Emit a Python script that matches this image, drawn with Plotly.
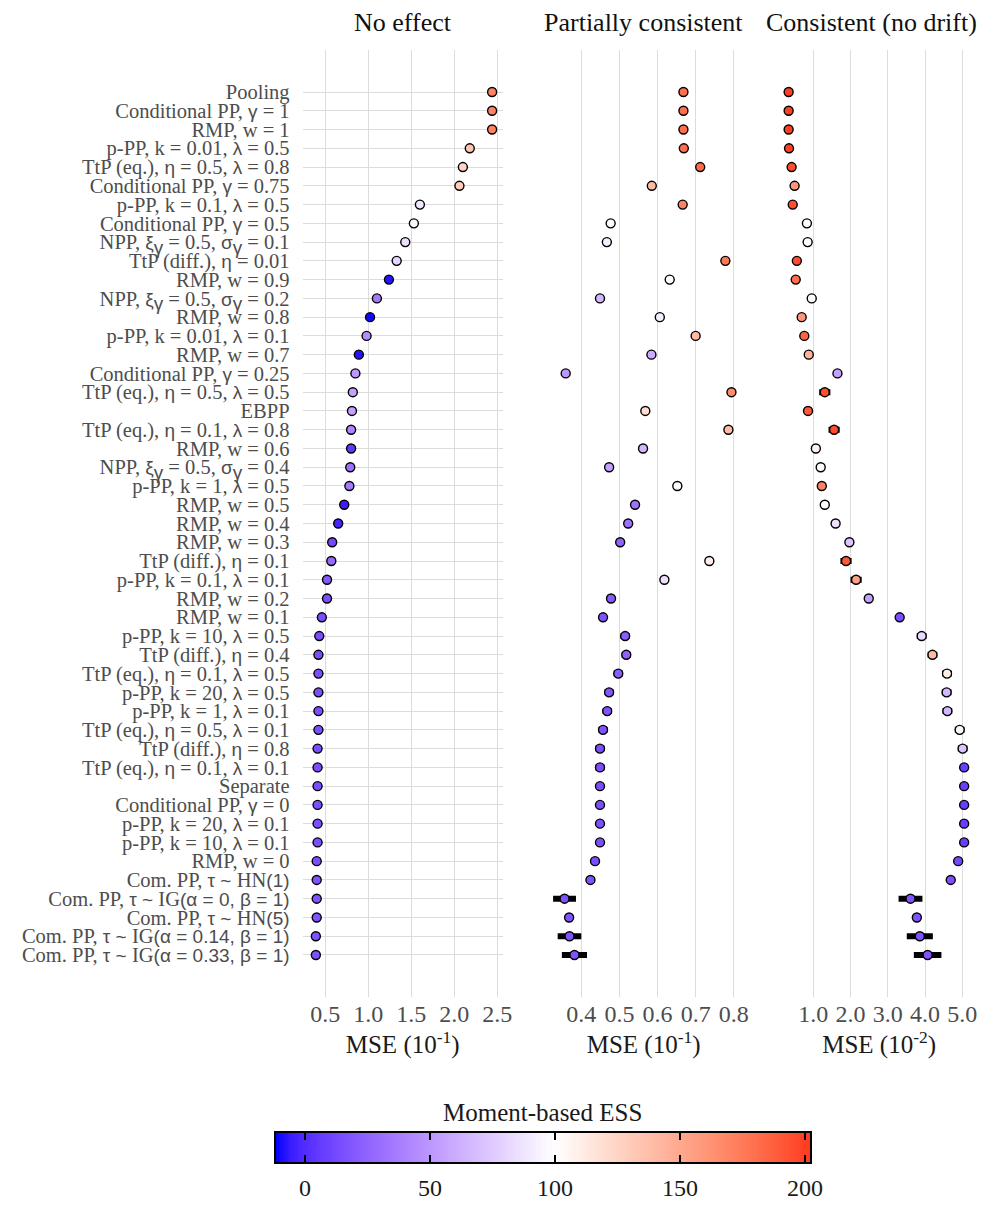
import re

import numpy as np
import plotly.graph_objects as go

SERIF = "Liberation Serif"
SANS = "Liberation Sans"

methods = [
    "Pooling",
    "Conditional PP, γ = 1",
    "RMP, w = 1",
    "p-PP, k = 0.01, λ = 0.5",
    "TtP (eq.), η = 0.5, λ = 0.8",
    "Conditional PP, γ = 0.75",
    "p-PP, k = 0.1, λ = 0.5",
    "Conditional PP, γ = 0.5",
    "NPP, ξ<sub>γ</sub> = 0.5, σ<sub>γ</sub> = 0.1",
    "TtP (diff.), η = 0.01",
    "RMP, w = 0.9",
    "NPP, ξ<sub>γ</sub> = 0.5, σ<sub>γ</sub> = 0.2",
    "RMP, w = 0.8",
    "p-PP, k = 0.01, λ = 0.1",
    "RMP, w = 0.7",
    "Conditional PP, γ = 0.25",
    "TtP (eq.), η = 0.5, λ = 0.5",
    "EBPP",
    "TtP (eq.), η = 0.1, λ = 0.8",
    "RMP, w = 0.6",
    "NPP, ξ<sub>γ</sub> = 0.5, σ<sub>γ</sub> = 0.4",
    "p-PP, k = 1, λ = 0.5",
    "RMP, w = 0.5",
    "RMP, w = 0.4",
    "RMP, w = 0.3",
    "TtP (diff.), η = 0.1",
    "p-PP, k = 0.1, λ = 0.1",
    "RMP, w = 0.2",
    "RMP, w = 0.1",
    "p-PP, k = 10, λ = 0.5",
    "TtP (diff.), η = 0.4",
    "TtP (eq.), η = 0.1, λ = 0.5",
    "p-PP, k = 20, λ = 0.5",
    "p-PP, k = 1, λ = 0.1",
    "TtP (eq.), η = 0.5, λ = 0.1",
    "TtP (diff.), η = 0.8",
    "TtP (eq.), η = 0.1, λ = 0.1",
    "Separate",
    "Conditional PP, γ = 0",
    "p-PP, k = 20, λ = 0.1",
    "p-PP, k = 10, λ = 0.1",
    "RMP, w = 0",
    "Com. PP, τ ~ HN(1)",
    "Com. PP, τ ~ IG(α = 0, β = 1)",
    "Com. PP, τ ~ HN(5)",
    "Com. PP, τ ~ IG(α = 0.14, β = 1)",
    "Com. PP, τ ~ IG(α = 0.33, β = 1)",
]

panel_titles = ["No effect", "Partially consistent", "Consistent (no drift)"]
axis_titles = ["MSE (10<sup>-1</sup>)", "MSE (10<sup>-1</sup>)", "MSE (10<sup>-2</sup>)"]

# MSE, no effect scenario (x 10^-1)
mse_none = [2.44, 2.44, 2.44, 2.18, 2.10, 2.06, 1.60, 1.53, 1.43, 1.33,
            1.24, 1.10, 1.02, 0.98, 0.89, 0.85, 0.82, 0.81, 0.80, 0.80,
            0.79, 0.78, 0.72, 0.65, 0.58, 0.57, 0.52, 0.52, 0.46, 0.43,
            0.42, 0.42, 0.42, 0.42, 0.42, 0.41, 0.41, 0.41, 0.41, 0.41,
            0.41, 0.40, 0.40, 0.40, 0.40, 0.39, 0.39]
ess_none = [170, 170, 170, 135, 125, 130, 88, 95, 85, 80,
            -8, 35, -10, 45, -8, 50, 55, 55, 42, 5,
            32, 36, -5, -3, 12, 28, 20, 15, 15, 15,
            15, 15, 15, 15, 15, 15, 15, 15, 15, 15,
            15, 15, 17, 17, 17, 17, 17]
err_none = [0.0] * 47

# MSE, partially consistent scenario (x 10^-1)
mse_partial = [0.668, 0.668, 0.668, 0.669, 0.712, 0.585, 0.666, 0.477, 0.467, 0.778,
               0.632, 0.449, 0.606, 0.700, 0.584, 0.359, 0.794, 0.568, 0.786, 0.562,
               0.473, 0.652, 0.541, 0.523, 0.502, 0.736, 0.618, 0.478, 0.457, 0.515,
               0.518, 0.497, 0.473, 0.468, 0.457, 0.449, 0.449, 0.449, 0.449, 0.449,
               0.449, 0.436, 0.424, 0.356, 0.368, 0.369, 0.382]
ess_partial = [180, 180, 180, 180, 182, 140, 170, 98, 92, 175,
               100, 65, 92, 140, 60, 50, 165, 120, 140, 65,
               55, 100, 32, 32, 25, 110, 85, 20, 17, 22,
               25, 22, 18, 17, 17, 15, 15, 15, 15, 15,
               15, 15, 17, 17, 17, 17, 17]
err_partial = [0.0] * 29 + [0.012] * 8 + [0.0] * 6 + [0.030, 0.0, 0.031, 0.033]

# MSE, consistent scenario (x 10^-2)
mse_consistent = [0.34, 0.34, 0.34, 0.35, 0.42, 0.50, 0.45, 0.83, 0.85, 0.56,
                  0.53, 0.96, 0.69, 0.76, 0.88, 1.65, 1.31, 0.86, 1.56, 1.07,
                  1.20, 1.23, 1.31, 1.60, 1.97, 1.88, 2.15, 2.49, 3.32, 3.91,
                  4.20, 4.59, 4.58, 4.60, 4.93, 5.01, 5.05, 5.05, 5.05, 5.05,
                  5.05, 4.89, 4.69, 3.61, 3.78, 3.86, 4.07]
ess_consistent = [200, 200, 200, 200, 195, 160, 195, 100, 100, 195,
                  180, 100, 160, 185, 145, 55, 195, 190, 195, 108,
                  100, 170, 100, 85, 72, 190, 155, 55, 15, 82,
                  140, 110, 65, 65, 95, 72, 8, 8, 8, 8,
                  8, 12, 15, 17, 17, 17, 17]
err_consistent = ([0.0] * 16 + [0.15, 0.0, 0.15] + [0.0] * 6 + [0.15, 0.15, 0.0, 0.0]
                  + [0.13] * 7 + [0.1] * 5 + [0.0, 0.0, 0.32, 0.0, 0.35, 0.37])

x_ranges = [(0.237, 2.563), (0.302, 0.825), (0.088, 5.45)]
x_ticks = [[0.5, 1.0, 1.5, 2.0, 2.5], [0.4, 0.5, 0.6, 0.7, 0.8], [1, 2, 3, 4, 5]]
x_ticktext = [["0.5", "1.0", "1.5", "2.0", "2.5"], ["0.4", "0.5", "0.6", "0.7", "0.8"],
              ["1.0", "2.0", "3.0", "4.0", "5.0"]]
domains = [(0.3036, 0.5042), (0.5456, 0.7455), (0.7816, 0.982)]
title_x = [0.4039, 0.6459, 0.8746]

ess_ticks = [0, 50, 100, 150, 200]
ess_min, ess_max, ess_mid = -11.6, 202, 100

SANS_SPAN = f"<span style=\"font-family:'{SANS}';font-size:19px\">"


def sans_label(text):
    if text.startswith("Com. PP"):
        head, rest = text.split("τ ~ ", 1)
        name, par = rest.split("(", 1)
        return f"{head}{SANS_SPAN}τ ~ </span>{name}{SANS_SPAN}({par}</span>"
    return re.sub(r"([γλησξτ])", lambda m: f"{SANS_SPAN}{m.group(1)}</span>", text)


# diverging blue-white-red in Lab space, like scale_fill_gradient2
def _to_lab(rgb):
    c = np.array(rgb, float) / 255
    c = np.where(c <= 0.04045, c / 12.92, ((c + 0.055) / 1.055) ** 2.4)
    m = np.array([[0.4124, 0.3576, 0.1805], [0.2126, 0.7152, 0.0722], [0.0193, 0.1192, 0.9505]])
    xyz = m @ c / np.array([0.95047, 1.0, 1.08883])
    f = np.where(xyz > 0.008856, np.cbrt(xyz), 7.787 * xyz + 16 / 116)
    return np.array([116 * f[1] - 16, 500 * (f[0] - f[1]), 200 * (f[1] - f[2])])


def _from_lab(lab):
    fy = (lab[0] + 16) / 116
    f = np.array([fy + lab[1] / 500, fy, fy - lab[2] / 200])
    xyz = np.where(f ** 3 > 0.008856, f ** 3, (f - 16 / 116) / 7.787) * np.array([0.95047, 1.0, 1.08883])
    m = np.array([[3.2406, -1.5372, -0.4986], [-0.9689, 1.8758, 0.0415], [0.0557, -0.2040, 1.0570]])
    c = np.clip(m @ xyz, 0, 1)
    c = np.where(c <= 0.0031308, 12.92 * c, 1.055 * c ** (1 / 2.4) - 0.055)
    r, g, b = (np.clip(c, 0, 1) * 255).round().astype(int)
    return f"rgb({r},{g},{b})"


low, mid, high = _to_lab((0, 0, 255)), _to_lab((255, 255, 255)), _to_lab((255, 0, 0))
half = max(abs(ess_min - ess_mid), abs(ess_max - ess_mid))
colorscale = []
for s in np.linspace(0, 1, 41):
    v = ess_min + s * (ess_max - ess_min)
    p = 0.5 + (v - ess_mid) / (2 * half)
    if p < 0.5:
        lab = low + (mid - low) * (p / 0.5)
    else:
        lab = mid + (high - mid) * ((p - 0.5) / 0.5)
    colorscale.append([float(s), _from_lab(lab)])

fig = go.Figure()
panels = [(mse_none, ess_none, err_none), (mse_partial, ess_partial, err_partial),
          (mse_consistent, ess_consistent, err_consistent)]
for i, (mse, ess, err) in enumerate(panels):
    suffix = "" if i == 0 else str(i + 1)
    fig.add_trace(go.Scatter(
        x=mse, y=methods, mode="markers",
        xaxis=f"x{suffix}", yaxis=f"y{suffix}",
        error_x=dict(type="data", array=err, color="black", thickness=6, width=0),
        marker=dict(size=9, color=ess, coloraxis="coloraxis", line=dict(color="black", width=1.4)),
        showlegend=False,
        hovertemplate="%{y}<br>MSE: %{x}<br>ESS: %{marker.color}<extra></extra>",
    ))

# legend bar drawn as a one-row heatmap so the ticks can sit on both edges
gradient = np.linspace(ess_min, ess_max, 300)
fig.add_trace(go.Heatmap(
    x=gradient, y=[0.5], z=[gradient], coloraxis="coloraxis",
    xaxis="x4", yaxis="y4", hoverinfo="skip",
))

grid = "#dcdcdc"
for i in range(3):
    suffix = "" if i == 0 else str(i + 1)
    fig.layout[f"xaxis{suffix}"] = dict(
        domain=domains[i], anchor=f"y{suffix}", range=x_ranges[i], automargin=False,
        tickvals=x_ticks[i], ticktext=x_ticktext[i],
        showgrid=True, gridcolor=grid, gridwidth=1, zeroline=False, showline=False,
        ticks="",
        tickfont=dict(family=SERIF, size=24, color="#4d4d4d"),
        title=dict(text=axis_titles[i], font=dict(family=SERIF, size=25, color="#1a1a1a"), standoff=9),
    )
    fig.layout[f"yaxis{suffix}"] = dict(
        domain=(0.19009, 0.95938), anchor=f"x{suffix}", type="category", automargin=False,
        categoryorder="array", categoryarray=methods,
        range=[len(methods) - 1 + 2.24, -2.24],
        showgrid=True, gridcolor=grid, gridwidth=1, zeroline=False, showline=False,
        tickvals=methods if i == 0 else [], ticktext=[sans_label(m) for m in methods] if i == 0 else [],
        showticklabels=(i == 0),
        ticks="outside", ticklen=8, tickcolor="rgba(0,0,0,0)",
        tickfont=dict(family=SERIF, size=20.5, color="#4d4d4d"),
    )
    fig.add_annotation(
        text=panel_titles[i], x=title_x[i], xref="paper", y=0.982, yref="paper",
        showarrow=False, xanchor="center", yanchor="middle",
        font=dict(family=SERIF, size=26, color="#111111"),
    )

fig.update_layout(
    xaxis4=dict(
        domain=(276 / 997, 810 / 997), anchor="y4", range=[ess_min, ess_max], automargin=False,
        tickvals=ess_ticks, ticks="inside", ticklen=7, tickwidth=2, tickcolor="black",
        showline=True, linecolor="black", linewidth=2, mirror="ticks",
        showgrid=False, zeroline=False, ticklabelstandoff=3,
        tickfont=dict(family=SERIF, size=24, color="#1a1a1a"),
    ),
    yaxis4=dict(
        domain=(1 - 1162 / 1231, 1 - 1133 / 1231), anchor="x4", range=[0, 1], automargin=False,
        showline=True, linecolor="black", linewidth=2, mirror=True,
        showgrid=False, zeroline=False, showticklabels=False, ticks="",
    ),
)

fig.add_annotation(
    text="Moment-based ESS", x=0.5446, xref="paper", y=1 - 1112 / 1231, yref="paper",
    showarrow=False, xanchor="center", yanchor="middle",
    font=dict(family=SERIF, size=25, color="#1a1a1a"),
)

fig.update_layout(
    width=997, height=1231,
    margin=dict(l=0, r=0, t=0, b=0),
    paper_bgcolor="white", plot_bgcolor="white",
    coloraxis=dict(cmin=ess_min, cmax=ess_max, colorscale=colorscale, showscale=False),
)

fig.write_html("out.html", post_script="document.body.style.margin='0';",
               config={"displayModeBar": False})
